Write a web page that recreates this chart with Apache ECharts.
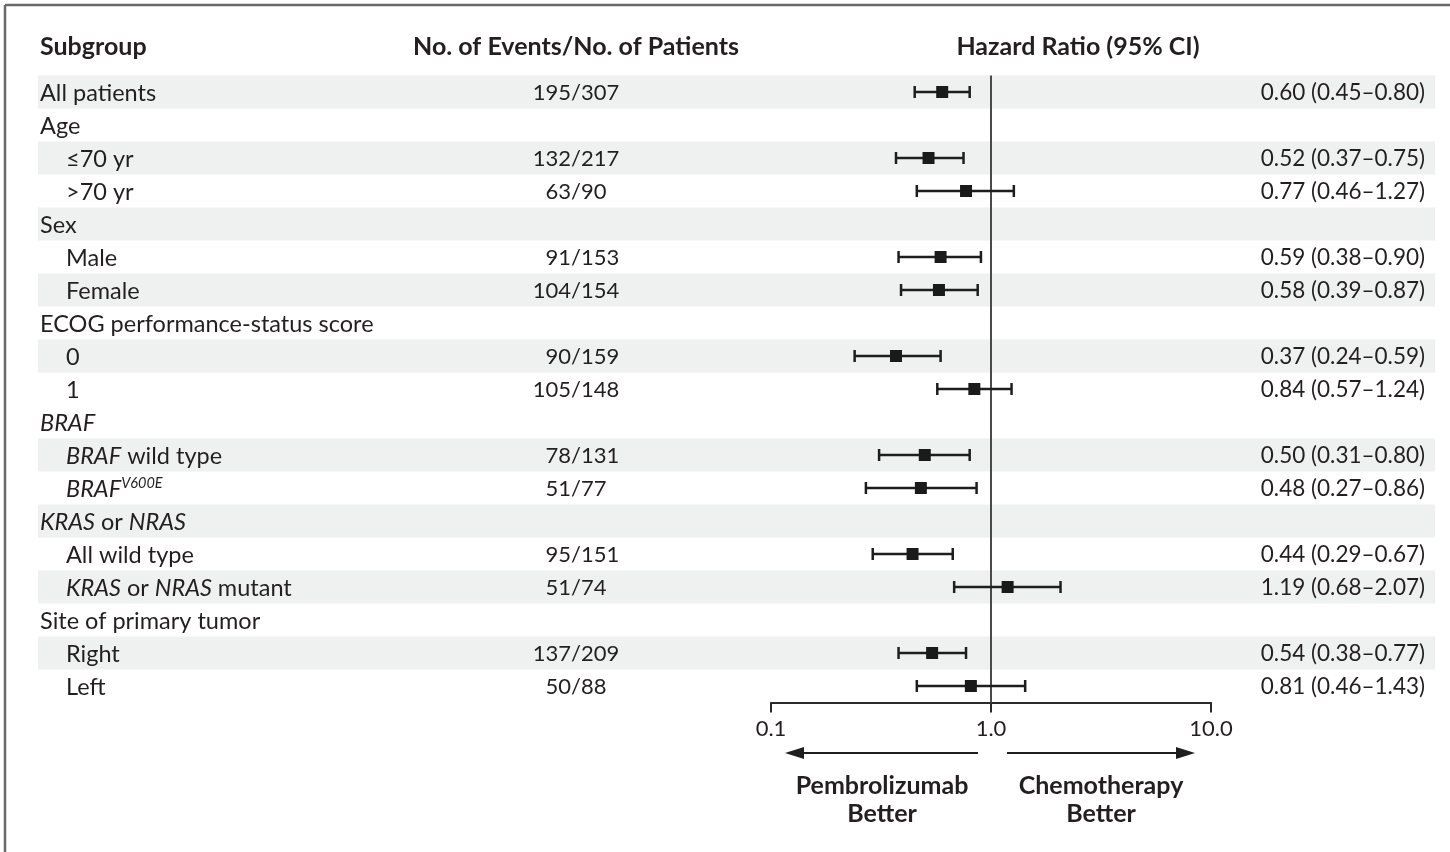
<!DOCTYPE html>
<html>
<head>
<meta charset="utf-8">
<script src="https://cdn.jsdelivr.net/npm/echarts@6/dist/echarts.min.js"></script>
<style>
  html, body { margin: 0; padding: 0; background: #fff; }
  #main { width: 1450px; height: 852px; }
</style>
</head>
<body>
<div id="main"></div>
<script>
// rows, top to bottom ({i|..} = italic, {sup|..} = superscript)
const subgroups = [
  'All patients', 'Age', '≤70 yr', '>70 yr', 'Sex', 'Male', 'Female',
  'ECOG performance-status score', '0', '1',
  '{i|BRAF}', '{i|BRAF} wild type', '{i|BRAF}{sup|V600E}',
  '{i|KRAS} or {i|NRAS}', 'All wild type', '{i|KRAS} or {i|NRAS} mutant',
  'Site of primary tumor', 'Right', 'Left'
];
const indent = [0, 0, 1, 1, 0, 1, 1, 0, 1, 1, 0, 1, 1, 0, 1, 1, 0, 1, 1];
const events = ['195', '', '132', '63', '', '91', '104', '', '90', '105', '', '78', '51', '', '95', '51', '', '137', '50'];
const patients = ['307', '', '217', '90', '', '153', '154', '', '159', '148', '', '131', '77', '', '151', '74', '', '209', '88'];
const hr     = [0.60, null, 0.52, 0.77, null, 0.59, 0.58, null, 0.37, 0.84, null, 0.50, 0.48, null, 0.44, 1.19, null, 0.54, 0.81];
const ciLow  = [0.45, null, 0.37, 0.46, null, 0.38, 0.39, null, 0.24, 0.57, null, 0.31, 0.27, null, 0.29, 0.68, null, 0.38, 0.46];
const ciHigh = [0.80, null, 0.75, 1.27, null, 0.90, 0.87, null, 0.59, 1.24, null, 0.80, 0.86, null, 0.67, 2.07, null, 0.77, 1.43];
const shaded = [1, 0, 1, 0, 1, 0, 1, 0, 1, 0, 0, 1, 0, 1, 0, 1, 0, 1, 0];
const nullValue = 1;
const tickValues = [0.1, 1, 10];
const tickLabels = ['0.1', '1.0', '10.0'];

const FONT = 'Lato';
const INK = '#231f20';
const FS = 22;      // numbers
const FS_LABEL = 23.5;  // subgroup names

const rich = {
  i: { fontFamily: FONT, fontSize: FS_LABEL, fontStyle: 'italic', fill: INK, lineHeight: 27 },
  sup: { fontFamily: FONT, fontSize: 14.5, fontStyle: 'italic', fill: INK, verticalAlign: 'top', lineHeight: 14 }
};

const rowIdx = subgroups.map((s, i) => 'r' + i);
const forestData = [];
hr.forEach((v, i) => {
  if (v != null) forestData.push([v, ciLow[i], ciHigh[i], i]);
});

const chart = echarts.init(document.getElementById('main'), null, { renderer: 'canvas' });

function txt(x, y, text, align, extra) {
  return {
    type: 'text', x: x, y: y,
    style: Object.assign({
      text: text, fill: INK, fontFamily: FONT, fontSize: FS,
      align: align, textAlign: align, verticalAlign: 'middle', textVerticalAlign: 'middle'
    }, extra || {})
  };
}

const option = {
  backgroundColor: '#fff',
  animation: false,
  grid: [
    { left: 0, right: 0, top: 75.5, height: 627 },
    { left: 771, width: 440, top: 75.5, height: 627 }
  ],
  xAxis: [
    { gridIndex: 0, type: 'value', min: 0, max: 1450, show: false },
    {
      gridIndex: 1, type: 'log', logBase: 10, min: 0.1, max: 10,
      axisLine: { show: true, onZero: false, lineStyle: { color: '#2a2a2a', width: 2 } },
      axisTick: { show: true, inside: false, length: 10, lineStyle: { color: '#2a2a2a', width: 2 } },
      minorTick: { show: false },
      splitLine: { show: false },
      axisLabel: {
        color: INK, fontFamily: FONT, fontSize: 22, margin: 15,
        formatter: v => {
          const k = tickValues.findIndex(t => Math.abs(t - v) < 1e-9);
          return k >= 0 ? tickLabels[k] : '';
        }
      }
    }
  ],
  yAxis: [
    { gridIndex: 0, type: 'category', data: rowIdx, inverse: true, show: false },
    { gridIndex: 1, type: 'category', data: rowIdx, inverse: true, show: false }
  ],
  series: [
    {
      // row shading + text columns
      type: 'custom', xAxisIndex: 0, yAxisIndex: 0, z: 1,
      data: rowIdx.map((r, i) => [0, i]),
      encode: { x: 0, y: 1 },
      renderItem: (params, api) => {
        const i = params.dataIndex;
        const y = api.coord([0, i])[1];
        const h = api.size([0, 1])[1];
        const children = [];
        if (shaded[i]) {
          children.push({ type: 'rect', shape: { x: 38, y: y - h / 2, width: 1397, height: h }, style: { fill: '#eff0f0' } });
        }
        children.push(txt(indent[i] ? 66 : 40, y + 1, subgroups[i], 'left', { rich: rich, fontSize: FS_LABEL }));
        if (events[i]) {
          children.push(txt(571, y + 1, events[i], 'right'));
          children.push(txt(571, y + 1, '/' + patients[i], 'left'));
        }
        if (hr[i] != null) {
          const s = hr[i].toFixed(2) + ' (' + ciLow[i].toFixed(2) + '–' + ciHigh[i].toFixed(2) + ')';
          children.push(txt(1425, y + 1, s, 'right', { fontSize: 22.5 }));
        }
        return { type: 'group', children: children };
      }
    },
    {
      // line of no effect
      type: 'custom', xAxisIndex: 1, yAxisIndex: 1, z: 2,
      data: [[nullValue, 0]],
      encode: { x: 0, y: 1 },
      renderItem: (params, api) => {
        const x = api.coord([api.value(0), 0])[0];
        const cs = params.coordSys;
        return { type: 'line', shape: { x1: x, y1: cs.y, x2: x, y2: cs.y + cs.height }, style: { stroke: '#4a4a4a', lineWidth: 2 } };
      }
    },
    {
      // hazard ratios with 95% CI
      type: 'custom', xAxisIndex: 1, yAxisIndex: 1, z: 3,
      data: forestData,
      encode: { x: [0, 1, 2], y: 3 },
      renderItem: (params, api) => {
        const row = api.value(3);
        const p = api.coord([api.value(0), row]);
        const lo = api.coord([api.value(1), row]);
        const hi = api.coord([api.value(2), row]);
        const st = { stroke: '#1e1e1e', lineWidth: 2.5 };
        const cap = 6, sq = 12;
        return {
          type: 'group',
          children: [
            { type: 'line', shape: { x1: lo[0], y1: p[1], x2: hi[0], y2: p[1] }, style: st },
            { type: 'line', shape: { x1: lo[0], y1: p[1] - cap, x2: lo[0], y2: p[1] + cap }, style: st },
            { type: 'line', shape: { x1: hi[0], y1: p[1] - cap, x2: hi[0], y2: p[1] + cap }, style: st },
            { type: 'rect', shape: { x: p[0] - sq / 2, y: p[1] - sq / 2, width: sq, height: sq }, style: { fill: '#1a1a1a' } }
          ]
        };
      }
    }
  ],
  graphic: [
    { type: 'line', shape: { x1: 5, y1: 5, x2: 5, y2: 852 }, style: { stroke: '#6a6a6a', lineWidth: 2.5 } },
    { type: 'line', shape: { x1: 5, y1: 5, x2: 1450, y2: 5 }, style: { stroke: '#6a6a6a', lineWidth: 2.5 } },
    txt(40, 47, 'Subgroup', 'left', { fontWeight: 'bold', fontSize: 25 }),
    txt(576, 47, 'No. of Events/No. of Patients', 'center', { fontWeight: 'bold', fontSize: 25 }),
    txt(1078, 47, 'Hazard Ratio (95% CI)', 'center', { fontWeight: 'bold', fontSize: 25 }),
    // direction arrows
    { type: 'line', shape: { x1: 978, y1: 753, x2: 798, y2: 753 }, style: { stroke: '#1e1e1e', lineWidth: 2 } },
    { type: 'polygon', shape: { points: [[785, 753], [804, 747], [804, 759]] }, style: { fill: '#1e1e1e' } },
    { type: 'line', shape: { x1: 1007, y1: 753, x2: 1182, y2: 753 }, style: { stroke: '#1e1e1e', lineWidth: 2 } },
    { type: 'polygon', shape: { points: [[1195, 753], [1176, 747], [1176, 759]] }, style: { fill: '#1e1e1e' } },
    txt(882, 800, 'Pembrolizumab\nBetter', 'center', { fontWeight: 'bold', fontSize: 25, lineHeight: 28 }),
    txt(1101, 800, 'Chemotherapy\nBetter', 'center', { fontWeight: 'bold', fontSize: 25, lineHeight: 28 })
  ]
};

chart.setOption(option);
</script>
</body>
</html>
